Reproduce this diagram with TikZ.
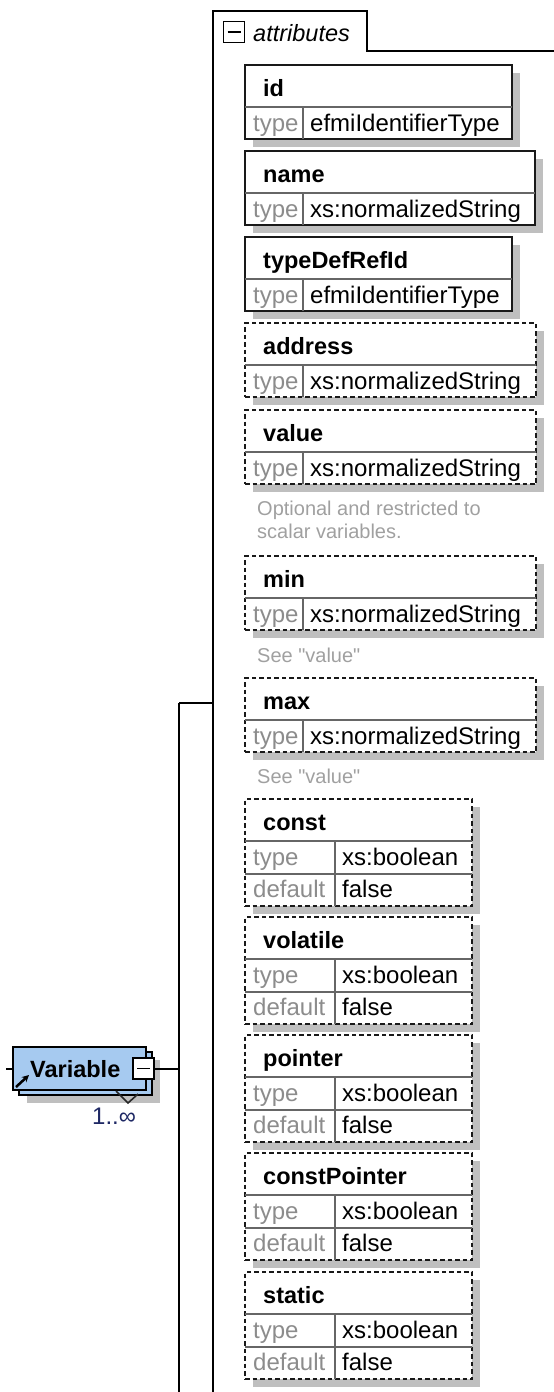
\documentclass[tikz,border=0pt]{standalone}
\usepackage{fontspec}
\setmainfont{Liberation Sans}
\usetikzlibrary{arrows.meta,positioning,shadows}
\definecolor{VarBlue}{RGB}{166,202,240}
\definecolor{LabGray}{RGB}{140,140,140}
\definecolor{NoteGray}{RGB}{160,160,160}
\definecolor{Navy}{RGB}{30,40,100}
\newcommand{\xsfont}{\fontsize{24}{27}\selectfont}
\newcommand{\notefont}{\fontsize{20}{23}\selectfont}

\begin{document}
\begin{tikzpicture}[x=1pt,y=-1pt,>=Latex,
  attbox/.style={draw=black!90,line width=2pt,fill=white,inner sep=0pt,outer sep=0pt,anchor=north west,drop shadow={shadow xshift=8pt,shadow yshift=-8pt,fill=black!25,opacity=1}},
  opt/.style={dash pattern=on 4.5pt off 3pt},
  sep/.style={draw=black!60,line width=1.3pt},
  ttl/.style={font=\fontsize{23.5}{27}\selectfont\bfseries,anchor=base west,inner sep=0pt},
  lbl/.style={font=\xsfont,text=LabGray,anchor=base west,inner sep=0pt},
  val/.style={font=\xsfont,anchor=base west,inner sep=0pt},
  note/.style={font=\notefont,text=NoteGray,anchor=base west,inner sep=0pt,align=left},
  wire/.style={line width=2pt},
  minus/.style={draw,line width=1.5pt,fill=white,minimum size=21pt,inner sep=0pt,path picture={\draw[line width=1.5pt]([xshift=4pt]path picture bounding box.west)--([xshift=-4pt]path picture bounding box.east);}},
  var/.style={draw,line width=2pt,fill=VarBlue,inner sep=0pt,minimum width=133pt,minimum height=43pt,drop shadow={shadow xshift=14pt,shadow yshift=-13pt,fill=black!25,opacity=1},copy shadow={shadow xshift=6pt,shadow yshift=-5pt,fill=VarBlue,draw=black,line width=2pt}}]
\useasboundingbox (0,0) rectangle (554,1392);

% attributes group
\coordinate (frame) at (213,11);
\draw[wire] (213,1400) |- (367,11) |- (560,51);
\node[minus] (acol) at (234,32) {};
\node[lbl,text=black,font=\fontsize{23.5}{27}\selectfont\itshape] (atitle) at (253,41) {attributes};

% attributes with one row
\foreach \n/\v/\w/\y/\s in {id/efmiIdentifierType/267/65/solid,name/xs:normalizedString/290/151/solid,typeDefRefId/efmiIdentifierType/267/237/solid,address/xs:normalizedString/291/323/opt,value/xs:normalizedString/291/410/opt,min/xs:normalizedString/291/556/opt,max/xs:normalizedString/291/678/opt}{
  \node[attbox,\s,minimum width=\w pt,minimum height=74pt] (\n) at (245,\y) {};
  \draw[sep] ([yshift=-42pt]\n.north west) -- ([yshift=-42pt]\n.north east);
  \draw[sep] ([xshift=58pt,yshift=-42pt]\n.north west) -- ([xshift=58pt]\n.south west);
  \node[ttl] at ([xshift=18pt,yshift=-31pt]\n.north west) {\n};
  \node[lbl] at ([xshift=8pt,yshift=-66pt]\n.north west) {type};
  \node[val] at ([xshift=65pt,yshift=-66pt]\n.north west) {\v};
}

% attributes with default
\foreach \n/\y in {const/799,volatile/917,pointer/1035,constPointer/1153,static/1272}{
  \node[attbox,opt,minimum width=227pt,minimum height=107pt] (\n) at (245,\y) {};
  \draw[sep] ([yshift=-42pt]\n.north west) -- ([yshift=-42pt]\n.north east);
  \draw[sep] ([yshift=-75pt]\n.north west) -- ([yshift=-75pt]\n.north east);
  \draw[sep] ([xshift=90pt,yshift=-42pt]\n.north west) -- ([xshift=90pt]\n.south west);
  \node[ttl] at ([xshift=18pt,yshift=-31pt]\n.north west) {\n};
  \node[lbl] at ([xshift=8pt,yshift=-66.5pt]\n.north west) {type};
  \node[val] at ([xshift=97pt,yshift=-66.5pt]\n.north west) {xs:boolean};
  \node[lbl] at ([xshift=8pt,yshift=-98.5pt]\n.north west) {default};
  \node[val] at ([xshift=97pt,yshift=-98.5pt]\n.north west) {false};
}

% notes
\node[note,anchor=north west] (valnote) at (257,501) {Optional and restricted to\\scalar variables.};
\node[note] (minnote) at (257,662) {See \textquotedbl value\textquotedbl};
\node[note] (maxnote) at (257,783) {See \textquotedbl value\textquotedbl};

% element
\node[var] (var) at (79.5,1068.5) {};
\draw[line width=1.6pt,black!85] (116,1091) -- (128,1103) -- (138,1094);
\node[ttl] (vartxt) at (30,1077) {Variable};
\draw[line width=2.5pt,-{Stealth[length=7pt,width=7pt]}] (16,1087) -- (29,1075);
\node[minus] (vcol) at (143.5,1068.5) {};
\node[val,text=Navy] (mult) at (92,1124) {1..∞};

% connectors
\coordinate (stub) at (6,1068.5);
\coordinate (seqtop) at (179,703);
\coordinate (seqend) at (179,1400);
\draw[wire] (stub) -- (var.west);
\draw[wire] (seqtop) -- (seqend);
\draw[wire] (vcol.east) -- (vcol.east -| seqtop);
\draw[wire] (seqtop) -- (seqtop -| frame);
\end{tikzpicture}
\end{document}
